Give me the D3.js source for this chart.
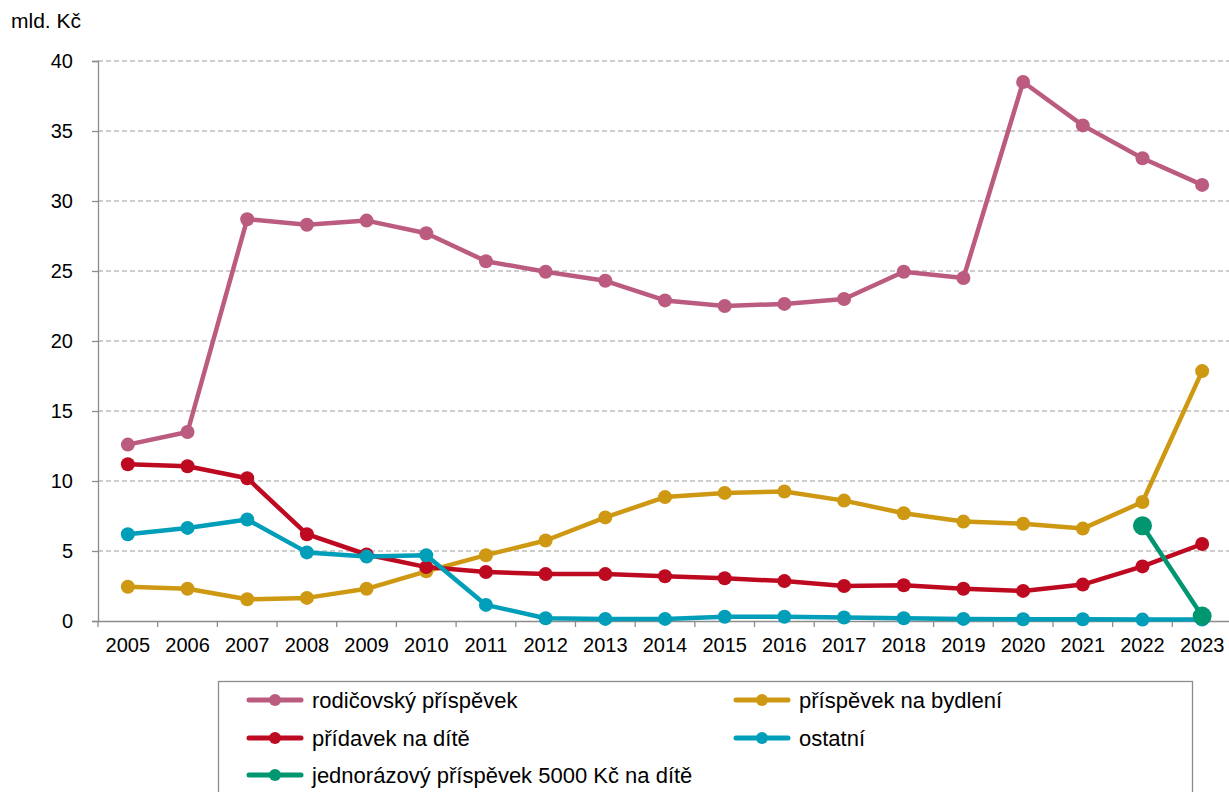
<!DOCTYPE html>
<html><head><meta charset="utf-8">
<script src="https://cdn.jsdelivr.net/npm/d3@7"></script>
<style>
body{margin:0;background:#fff;}
svg{font-family:"Liberation Sans",Arial,sans-serif;}
</style></head>
<body><svg id="c" width="1229" height="792"></svg>
<script>
const years = ["2005","2006","2007","2008","2009","2010","2011","2012","2013","2014","2015","2016","2017","2018","2019","2020","2021","2022","2023"];
const rodicovsky = [12.6,13.5,28.7,28.3,28.6,27.7,25.7,24.95,24.3,22.9,22.5,22.65,23.0,24.95,24.5,38.5,35.4,33.05,31.15];
const bydleni = [2.45,2.3,1.55,1.65,2.3,3.55,4.7,5.75,7.4,8.85,9.15,9.25,8.6,7.7,7.1,6.95,6.6,8.5,17.85];
const pridavek = [11.2,11.05,10.2,6.2,4.75,3.85,3.5,3.35,3.35,3.2,3.05,2.85,2.5,2.55,2.3,2.15,2.6,3.9,5.5];
const ostatni = [6.2,6.65,7.25,4.9,4.6,4.7,1.15,0.2,0.15,0.15,0.3,0.3,0.25,0.2,0.15,0.12,0.12,0.1,0.1];
const jednorazovy = [null,null,null,null,null,null,null,null,null,null,null,null,null,null,null,null,null,6.8,0.35];
const yTicks = [0,5,10,15,20,25,30,35,40];
const seriesNames = ["rodičovský příspěvek","příspěvek na bydlení","přídavek na dítě","ostatní","jednorázový příspěvek 5000 Kč na dítě"];
const seriesColors = ["#BC5B80","#CE9812","#BE0A20","#009EB8","#009670"];
const seriesValues = [rodicovsky,bydleni,pridavek,ostatni,jednorazovy];
const unitLabel = "mld. Kč";

const FS = 20;
const svg = d3.select("#c");
const x = d3.scaleBand().domain(years).range([98,1232]);
const y = d3.scaleLinear().domain([0,40]).range([621,61]);

// gridlines
svg.append("g").selectAll("line").data(yTicks.filter(d=>d>0)).join("line")
  .attr("x1",98).attr("x2",1229).attr("y1",d=>y(d)).attr("y2",d=>y(d))
  .attr("stroke","#bdbdbd").attr("stroke-width",1.3).attr("stroke-dasharray","5,3");

// y axis
const ya = svg.append("g").attr("transform","translate(98,0)")
  .call(d3.axisLeft(y).tickValues(yTicks).tickSize(6).tickPadding(19).tickFormat(d3.format("d")));
ya.select(".domain").attr("stroke","#8c8c8c").attr("stroke-width",1.3);
ya.selectAll(".tick line").attr("stroke","#8c8c8c").attr("stroke-width",1.3);
ya.selectAll("text").attr("font-size",FS).attr("fill","#000").attr("font-family","Liberation Sans, Arial, sans-serif");

// x axis
const xa = svg.append("g").attr("transform","translate(0,621)")
  .call(d3.axisBottom(x).tickSizeOuter(0).tickSize(0).tickPadding(17));
xa.select(".domain").attr("stroke","#8c8c8c").attr("stroke-width",1.3);
xa.selectAll("text").attr("font-size",FS).attr("fill","#000").attr("font-family","Liberation Sans, Arial, sans-serif");
// boundary ticks
svg.append("g").selectAll("line").data(years).join("line")
  .attr("x1",d=>x(d)).attr("x2",d=>x(d)).attr("y1",621).attr("y2",627)
  .attr("stroke","#8c8c8c").attr("stroke-width",1.3);

svg.append("text").attr("x",11).attr("y",28).attr("font-size",21).text(unitLabel);

// series
const line = d3.line().defined(d=>d.v!=null).x(d=>x(d.k)+x.bandwidth()/2).y(d=>y(d.v));
seriesValues.forEach((vals,i)=>{
  const pts = years.map((k,j)=>({k,v:vals[j]}));
  const g = svg.append("g");
  g.append("path").datum(pts).attr("d",line).attr("fill","none")
    .attr("stroke",seriesColors[i]).attr("stroke-width",4.5).attr("stroke-linejoin","round");
  g.selectAll("circle").data(pts.filter(d=>d.v!=null)).join("circle")
    .attr("cx",d=>x(d.k)+x.bandwidth()/2).attr("cy",d=>y(d.v))
    .attr("r", i===4 ? 9.5 : 7).attr("fill",seriesColors[i]);
});

// legend
svg.append("rect").attr("x",218.5).attr("y",681.5).attr("width",974).attr("height",130)
  .attr("fill","none").attr("stroke","#8c8c8c").attr("stroke-width",1.3);
const legPos = [[249,700],[736,700],[249,738],[736,738],[249,775]];
seriesNames.forEach((n,i)=>{
  const [lx,ly] = legPos[i];
  const g = svg.append("g");
  g.append("line").attr("x1",lx).attr("x2",lx+52).attr("y1",ly).attr("y2",ly)
    .attr("stroke",seriesColors[i]).attr("stroke-width",5).attr("stroke-linecap","round");
  g.append("circle").attr("cx",lx+26).attr("cy",ly).attr("r",6).attr("fill",seriesColors[i]);
  g.append("text").attr("x",lx+63).attr("y",ly+8).attr("font-size",22).text(n);
});
</script></body></html>
